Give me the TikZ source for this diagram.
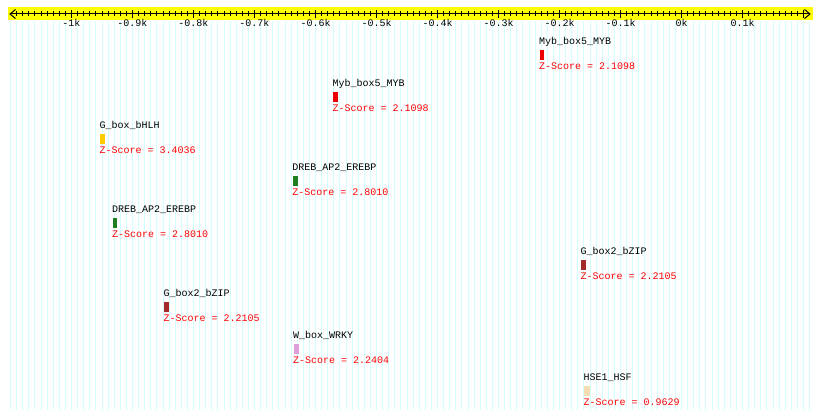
\documentclass[tikz,border=0pt]{standalone}
\usepackage{fontspec}
\setmainfont{Liberation Mono}
\definecolor{bgline}{RGB}{212,255,255}
\definecolor{band}{RGB}{255,255,0}
\definecolor{zred}{RGB}{255,0,0}
\definecolor{mybc}{RGB}{238,0,0}
\definecolor{bhlhc}{RGB}{255,204,0}
\definecolor{drebc}{RGB}{30,125,30}
\definecolor{bzipc}{RGB}{165,42,42}
\definecolor{wrkyc}{RGB}{221,160,221}
\definecolor{hsec}{RGB}{245,222,179}
\begin{document}
\begin{tikzpicture}[x=1pt,y=-1pt,
  txt/.style={font=\fontsize{10}{12}\selectfont, inner sep=0pt},
  motifname/.style={txt, anchor=base west, text=black},
  zscore/.style={txt, anchor=base west, text=zred},
  ticklbl/.style={txt, anchor=base, text=black},
  motifbox/.style={draw=none, inner sep=0pt, minimum height=10pt, anchor=north west},
  axisline/.style={line width=1pt, black},
  bgstripe/.style={line width=0.9pt, bgline}]
\useasboundingbox (0,0) rectangle (820,419);
\fill[white] (0,0) rectangle (820,419);
% background stripes
\foreach \i in {0,...,131}
  \draw[bgstripe] ({10.5+6.1*\i},21) -- ({10.5+6.1*\i},410);
% ruler band
\fill[band] (7.5,7.5) rectangle (812.5,20.5);
\coordinate (axL) at (10,14);
\coordinate (axR) at (810,14);
\draw[axisline] (axL) -- (axR);
\draw[axisline] (15.5,9.5) -- (axL) -- (15.5,18.5);
\draw[axisline] (804.5,9.5) -- (axR) -- (804.5,18.5);
\foreach \i in {1,...,130}{
  \pgfmathtruncatemacro{\r}{mod(\i,10)}
  \ifnum\r=0
    \draw[axisline] ({10.5+6.1*\i},10) -- ({10.5+6.1*\i},18.5);
  \else
    \draw[axisline] ({10.5+6.1*\i},11.5) -- ({10.5+6.1*\i},16.5);
  \fi
}
\foreach \lab [count=\k] in {-1k,-0.9k,-0.8k,-0.7k,-0.6k,-0.5k,-0.4k,-0.3k,-0.2k,-0.1k,0k,0.1k}
  \node[ticklbl] (tick\k) at ({10.5+61*\k},27) {\lab};
% motifs
\foreach \nm/\sc/\bx/\bw/\col [count=\k] in {
  Myb\_box5\_MYB/2.1098/539.5/4.5/mybc,
  Myb\_box5\_MYB/2.1098/333/4.5/mybc,
  G\_box\_bHLH/3.4036/100/5/bhlhc,
  DREB\_AP2\_EREBP/2.8010/292.7/4.6/drebc,
  DREB\_AP2\_EREBP/2.8010/112.3/4.6/drebc,
  G\_box2\_bZIP/2.2105/581/5/bzipc,
  G\_box2\_bZIP/2.2105/164/5/bzipc,
  W\_box\_WRKY/2.2404/293.3/5/wrkyc,
  HSE1\_HSF/0.9629/584/6/hsec}{
  \pgfmathsetmacro{\yb}{49.5+42*(\k-1)}
  \node[motifbox, fill=\col, minimum width=\bw pt] (box\k) at (\bx,\yb) {};
  \node[motifname] (name\k) at (\bx-0.5,\yb-4.7) {\nm};
  \node[zscore] (z\k) at (\bx-0.5,\yb+20) {Z-Score = \sc};
}
\end{tikzpicture}
\end{document}
